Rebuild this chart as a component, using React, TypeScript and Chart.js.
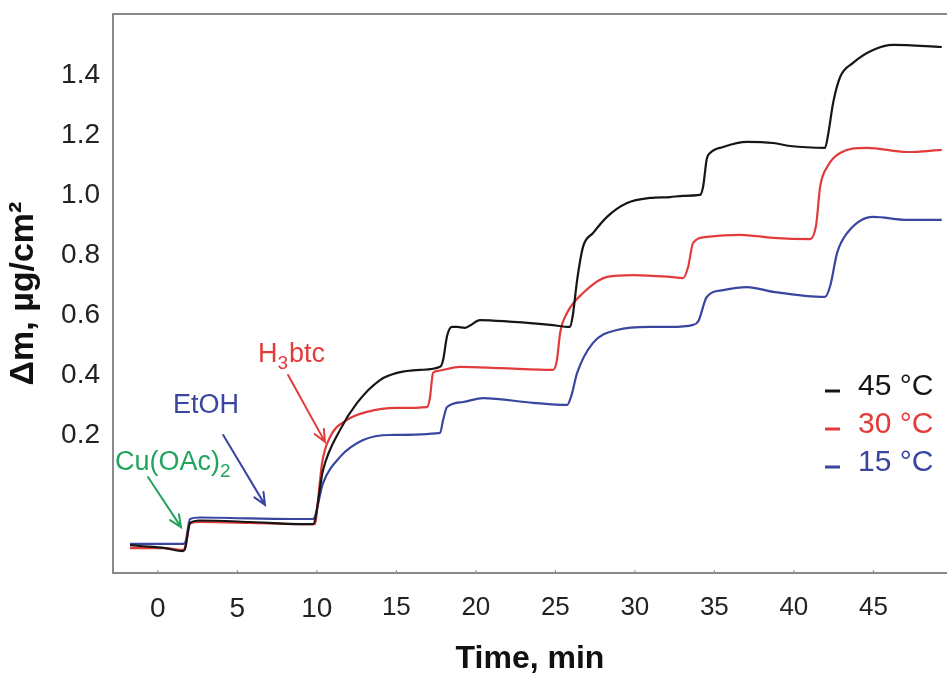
import React, { useEffect, useRef } from "react";
import { Chart, registerables } from "chart.js";

Chart.register(...registerables);

// ---------- data ----------
const seriesLabels = ["45 °C", "30 °C", "15 °C"];
const seriesColors = ["#161616", "#e23b3b", "#3a45a0"];

const time45 = [-1.75, -1.12, 0.45, 1.58, 1.71, 2.03, 2.65, 5.8, 8.94, 9.76, 10.39, 11.46, 12.53, 13.97, 15.04, 16.49, 17.75, 17.94, 18.19, 18.5, 18.82, 19.3, 19.64, 20.26, 22.34, 23.42, 24.67, 25.92, 26.1, 26.37, 26.74, 27.37, 28.25, 29.51, 30.96, 32.21, 33.03, 34.1, 34.3, 34.52, 34.73, 35.55, 37.06, 38.7, 39.76, 41.96, 42.15, 42.47, 42.91, 43.72, 44.98, 46.24, 49.3];
const mass45 = [-0.167, -0.17, -0.177, -0.187, -0.18, -0.093, -0.085, -0.09, -0.097, -0.097, 0.083, 0.217, 0.307, 0.383, 0.407, 0.417, 0.427, 0.45, 0.53, 0.56, 0.56, 0.557, 0.565, 0.583, 0.577, 0.573, 0.567, 0.56, 0.6, 0.717, 0.827, 0.873, 0.927, 0.973, 0.99, 0.993, 0.997, 1.0, 1.03, 1.12, 1.14, 1.16, 1.177, 1.173, 1.163, 1.157, 1.2, 1.307, 1.393, 1.44, 1.483, 1.5, 1.493];

const time30 = [-1.75, 0.45, 1.58, 1.71, 2.03, 2.65, 5.8, 8.94, 9.89, 10.01, 10.33, 10.83, 11.9, 13.16, 15.04, 16.93, 17.1, 17.31, 17.56, 19.0, 21.52, 24.86, 25.1, 25.3, 25.74, 26.74, 28.25, 29.89, 32.21, 33.03, 33.35, 33.66, 34.52, 36.62, 38.7, 41.02, 41.4, 41.65, 42.09, 42.91, 44.61, 47.12, 49.3];
const mass30 = [-0.177, -0.177, -0.183, -0.175, -0.095, -0.09, -0.093, -0.097, -0.097, -0.05, 0.107, 0.193, 0.25, 0.277, 0.29, 0.293, 0.32, 0.407, 0.413, 0.427, 0.423, 0.417, 0.45, 0.54, 0.607, 0.673, 0.727, 0.733, 0.727, 0.723, 0.76, 0.84, 0.86, 0.867, 0.857, 0.853, 0.9, 1.027, 1.093, 1.14, 1.157, 1.143, 1.15];

const time15 = [-1.75, 1.58, 1.71, 2.03, 2.65, 5.8, 8.94, 9.76, 10.39, 11.46, 12.91, 14.6, 17.75, 17.94, 18.19, 19.2, 20.45, 23.6, 25.74, 26.0, 26.37, 27.37, 28.88, 30.96, 32.21, 33.66, 34.0, 34.52, 35.55, 37.06, 38.7, 41.96, 42.3, 42.72, 43.35, 44.98, 47.12, 49.3];
const mass15 = [-0.163, -0.163, -0.16, -0.08, -0.075, -0.078, -0.08, -0.08, 0.04, 0.127, 0.183, 0.2, 0.207, 0.25, 0.293, 0.31, 0.323, 0.307, 0.3, 0.33, 0.407, 0.507, 0.55, 0.56, 0.56, 0.567, 0.58, 0.66, 0.683, 0.693, 0.677, 0.66, 0.7, 0.807, 0.873, 0.927, 0.917, 0.917];

const xTickValues = [0, 5, 10, 15, 20, 25, 30, 35, 40, 45];
const yTickValues = [0.2, 0.4, 0.6, 0.8, 1.0, 1.2, 1.4];

const X_MIN = -2.82;
const X_MAX = 49.63;
const Y_MIN = -0.26;
const Y_MAX = 1.603;

// annotations (anchored in data units)
const annotations = [
  { parts: [["Cu(OAc)", false], ["2", true]], color: "#22a45e", x: -2.69, y: 0.083, arrow: [-0.62, 0.06, 1.46, -0.107] },
  { parts: [["EtOH", false]], color: "#3a45a0", x: 0.96, y: 0.273, arrow: [4.11, 0.2, 6.74, -0.033] },
  { parts: [["H", false], ["3", true], ["btc", false]], color: "#e23b3b", x: 6.3, y: 0.443, arrow: [8.19, 0.4, 10.51, 0.177] },
];

const FONT = "'Liberation Sans', Arial, Helvetica, sans-serif";
const FRAME = "#8a8a8a";

function toPoints(ts: number[], ms: number[]) {
  return ts.map((t, i) => ({ x: t, y: ms[i] }));
}

const framePlugin = {
  id: "frameTop",
  afterDraw(chart: any) {
    const { ctx, chartArea } = chart;
    ctx.save();
    ctx.strokeStyle = FRAME;
    ctx.lineWidth = 2;
    ctx.beginPath();
    ctx.moveTo(chartArea.left - 1, chartArea.top);
    ctx.lineTo(chartArea.right, chartArea.top);
    ctx.stroke();
    // small inward tick marks on the bottom axis
    const xs = chart.scales.x;
    ctx.lineWidth = 1;
    xTickValues.forEach((v) => {
      const px = xs.getPixelForValue(v);
      ctx.beginPath();
      ctx.moveTo(px, chartArea.bottom);
      ctx.lineTo(px, chartArea.bottom - 3);
      ctx.stroke();
    });
    ctx.restore();
  },
};

function drawArrow(ctx: CanvasRenderingContext2D, x1: number, y1: number, x2: number, y2: number, color: string) {
  const ang = Math.atan2(y2 - y1, x2 - x1);
  const head = 13;
  const spread = 0.42;
  ctx.save();
  ctx.strokeStyle = color;
  ctx.lineWidth = 2;
  ctx.lineCap = "round";
  ctx.beginPath();
  ctx.moveTo(x1, y1);
  ctx.lineTo(x2, y2);
  ctx.moveTo(x2 - head * Math.cos(ang - spread), y2 - head * Math.sin(ang - spread));
  ctx.lineTo(x2, y2);
  ctx.lineTo(x2 - head * Math.cos(ang + spread), y2 - head * Math.sin(ang + spread));
  ctx.stroke();
  ctx.restore();
}

const annotationPlugin = {
  id: "annotations",
  afterDatasetsDraw(chart: any) {
    const { ctx, scales } = chart;
    const xs = scales.x;
    const ys = scales.y;
    annotations.forEach((a) => {
      let px = xs.getPixelForValue(a.x);
      const py = ys.getPixelForValue(a.y);
      ctx.save();
      ctx.fillStyle = a.color;
      ctx.textBaseline = "alphabetic";
      ctx.textAlign = "left";
      a.parts.forEach(([txt, sub]: any) => {
        ctx.font = sub ? `19px ${FONT}` : `27px ${FONT}`;
        ctx.fillText(txt, px, sub ? py + 7 : py);
        px += ctx.measureText(txt).width + (sub ? 1 : 0);
      });
      ctx.restore();
      const [ax1, ay1, ax2, ay2] = a.arrow;
      drawArrow(ctx, xs.getPixelForValue(ax1), ys.getPixelForValue(ay1), xs.getPixelForValue(ax2), ys.getPixelForValue(ay2), a.color);
    });
  },
};

const legendPlugin = {
  id: "innerLegend",
  afterDraw(chart: any) {
    const { ctx, chartArea } = chart;
    const x0 = chartArea.right - 122;
    const y0 = chartArea.top + 373;
    ctx.save();
    chart.data.datasets.forEach((ds: any, i: number) => {
      const y = y0 + i * 38;
      ctx.strokeStyle = ds.borderColor;
      ctx.lineWidth = 3;
      ctx.beginPath();
      ctx.moveTo(x0, y + 4);
      ctx.lineTo(x0 + 15, y + 4);
      ctx.stroke();
      ctx.fillStyle = ds.borderColor;
      ctx.font = `30px ${FONT}`;
      ctx.textBaseline = "middle";
      ctx.textAlign = "left";
      ctx.fillText(ds.label, x0 + 33, y);
    });
    ctx.restore();
  },
};

export default function App() {
  const ref = useRef<HTMLCanvasElement | null>(null);

  useEffect(() => {
    document.body.style.margin = "0";
    if (!ref.current) return;
    const datasets = [
      toPoints(time45, mass45),
      toPoints(time30, mass30),
      toPoints(time15, mass15),
    ].map((pts, i) => ({
      label: seriesLabels[i],
      data: pts,
      borderColor: seriesColors[i],
      backgroundColor: seriesColors[i],
      borderWidth: 2.2,
      pointRadius: 0,
      fill: false,
      cubicInterpolationMode: "monotone" as const,
    }));

    const chart = new Chart(ref.current, {
      type: "line",
      data: { datasets },
      plugins: [framePlugin, annotationPlugin, legendPlugin],
      options: {
        animation: false,
        responsive: false,
        maintainAspectRatio: false,
        layout: { padding: { top: 14, left: 0, right: 0, bottom: 0 } },
        plugins: { legend: { display: false }, tooltip: { enabled: false } },
        scales: {
          x: {
            type: "linear",
            min: X_MIN,
            max: X_MAX,
            afterFit: (s: any) => {
              s.height = 104;
              s.paddingLeft = 0;
              s.paddingRight = 0;
            },
            afterBuildTicks: (s: any) => {
              s.ticks = xTickValues.map((v) => ({ value: v }));
            },
            grid: { display: false, drawTicks: false },
            border: { display: true, color: FRAME, width: 2 },
            ticks: {
              padding: 19,
              color: "#222",
              maxRotation: 0,
              autoSkip: false,
              font: (c: any) => ({ family: FONT, size: c.tick && c.tick.value <= 10 ? 28 : 26 }),
              callback: (v: any) => String(v),
            },
            title: {
              display: true,
              text: "Time, min",
              color: "#111",
              font: { family: FONT, size: 32, weight: "bold", lineHeight: 1 },
              padding: { top: 0, bottom: 2 },
            },
          },
          y: {
            type: "linear",
            min: Y_MIN,
            max: Y_MAX,
            afterFit: (s: any) => {
              s.width = 113;
              s.paddingTop = 0;
              s.paddingBottom = 0;
            },
            afterBuildTicks: (s: any) => {
              s.ticks = yTickValues.map((v) => ({ value: v }));
            },
            grid: { display: false, drawTicks: false },
            border: { display: true, color: FRAME, width: 2 },
            ticks: {
              padding: 13,
              color: "#222",
              autoSkip: false,
              font: { family: FONT, size: 28 },
              callback: (v: any) => Number(v).toFixed(1),
            },
            title: {
              display: true,
              text: "Δm, µg/cm²",
              color: "#111",
              font: { family: FONT, size: 34, weight: "bold", lineHeight: 1 },
              padding: { top: 7, bottom: 0 },
            },
          },
        },
      },
    });
    return () => chart.destroy();
  }, []);

  return (
    <div style={{ width: 947, height: 677, background: "#fff" }}>
      <canvas ref={ref} width={947} height={677} style={{ display: "block" }} />
    </div>
  );
}
